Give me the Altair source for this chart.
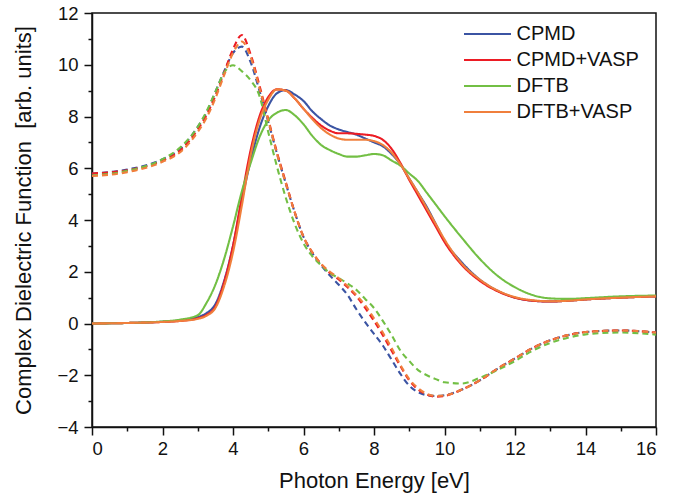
import altair as alt
import pandas as pd

energy = [0, 1, 2, 2.5, 3, 3.25, 3.5, 3.75, 4, 4.25, 4.5, 4.75, 5, 5.25, 5.5, 5.75,
          6, 6.25, 6.5, 6.75, 7, 7.25, 7.5, 7.75, 8, 8.25, 8.5, 8.75, 9, 9.25, 9.5,
          9.75, 10, 10.5, 11, 11.5, 12, 12.5, 13, 13.5, 14, 15, 16]

series_names = ["CPMD", "CPMD+VASP", "DFTB", "DFTB+VASP"]
series_colors = ["#3b54a3", "#ec1c24", "#72bf44", "#f07f3c"]

# imaginary part (solid)
cpmd_im = [0, 0.02, 0.07, 0.12, 0.25, 0.4, 0.75, 1.65, 3.0, 4.75, 6.3, 7.55, 8.4, 8.9, 9.02, 8.85,
           8.6, 8.2, 7.9, 7.65, 7.5, 7.4, 7.3, 7.15, 7.0, 6.85, 6.55, 6.15, 5.6, 5.05, 4.5,
           3.85, 3.2, 2.35, 1.7, 1.27, 1.0, 0.88, 0.85, 0.88, 0.93, 1.0, 1.05]
cpmdv_im = [0, 0.02, 0.06, 0.1, 0.2, 0.33, 0.65, 1.6, 3.0, 4.9, 6.7, 8.0, 8.75, 9.05, 9.0, 8.7,
            8.3, 7.95, 7.65, 7.45, 7.35, 7.35, 7.33, 7.3, 7.25, 7.1, 6.75, 6.2, 5.55, 4.95, 4.35,
            3.75, 3.15, 2.25, 1.65, 1.25, 1.0, 0.88, 0.85, 0.88, 0.93, 1.0, 1.05]
dftb_im = [0, 0.02, 0.08, 0.15, 0.32, 0.8, 1.5, 2.5, 3.75, 5.1, 6.2, 7.2, 7.85, 8.15, 8.25, 8.05,
           7.7, 7.25, 6.9, 6.7, 6.55, 6.45, 6.45, 6.5, 6.55, 6.5, 6.3, 6.1, 5.8, 5.5, 5.05,
           4.6, 4.15, 3.3, 2.5, 1.85, 1.4, 1.1, 0.97, 0.95, 0.98, 1.05, 1.08]
dftbv_im = [0, 0.02, 0.06, 0.1, 0.18, 0.3, 0.6, 1.45, 2.75, 4.55, 6.5, 7.85, 8.65, 9.05, 9.0, 8.7,
            8.3, 7.9, 7.55, 7.3, 7.15, 7.1, 7.1, 7.1, 7.05, 6.9, 6.6, 6.15, 5.6, 5.05, 4.45,
            3.85, 3.25, 2.3, 1.7, 1.28, 1.02, 0.9, 0.86, 0.88, 0.93, 1.0, 1.05]

# real part (dashed)
cpmd_re = [5.8, 5.95, 6.35, 6.75, 7.6, 8.15, 8.95, 9.75, 10.45, 10.7, 10.1, 9.0, 7.8, 6.55, 5.4, 4.3,
           3.35, 2.72, 2.25, 1.85, 1.5, 1.1, 0.55, 0.05, -0.4, -0.85, -1.4, -1.95, -2.4, -2.65, -2.77,
           -2.8, -2.77, -2.55, -2.2, -1.75, -1.35, -0.95, -0.65, -0.45, -0.33, -0.27, -0.35]
cpmdv_re = [5.8, 5.92, 6.3, 6.68, 7.5, 8.05, 8.8, 9.7, 10.6, 11.15, 10.4, 9.2, 7.9, 6.6, 5.45, 4.3,
            3.35, 2.75, 2.3, 1.95, 1.7, 1.4, 1.05, 0.6, 0.1, -0.45, -1.05, -1.65, -2.2, -2.55, -2.75,
            -2.83, -2.8, -2.55, -2.2, -1.75, -1.35, -0.95, -0.65, -0.45, -0.33, -0.27, -0.35]
dftb_re = [5.72, 5.9, 6.35, 6.8, 7.6, 8.2, 8.95, 9.7, 9.98, 9.75, 9.4, 8.8, 7.4, 6.05, 4.85, 3.85,
           3.1, 2.6, 2.25, 1.95, 1.75, 1.55, 1.3, 0.95, 0.6, 0.1, -0.45, -1.05, -1.45, -1.8, -2.0,
           -2.15, -2.27, -2.32, -2.1, -1.8, -1.45, -1.05, -0.75, -0.55, -0.42, -0.35, -0.43]
dftbv_re = [5.7, 5.85, 6.25, 6.62, 7.4, 7.95, 8.7, 9.6, 10.45, 10.9, 10.3, 9.1, 7.85, 6.55, 5.4, 4.3,
            3.35, 2.75, 2.3, 2.0, 1.75, 1.45, 1.1, 0.7, 0.2, -0.35, -0.95, -1.6, -2.15, -2.5, -2.72,
            -2.8, -2.78, -2.55, -2.2, -1.75, -1.35, -0.95, -0.65, -0.45, -0.33, -0.27, -0.35]

x_ticks_major = [0, 2, 4, 6, 8, 10, 12, 14, 16]
x_ticks_minor = [1, 3, 5, 7, 9, 11, 13, 15]
y_ticks_major = [-4, -2, 0, 2, 4, 6, 8, 10, 12]
y_ticks_minor = [-3, -1, 1, 3, 5, 7, 9, 11]

rows = []
im_lists = [cpmd_im, cpmdv_im, dftb_im, dftbv_im]
re_lists = [cpmd_re, cpmdv_re, dftb_re, dftbv_re]
for i, name in enumerate(series_names):
    for part, vals in (("Im", im_lists[i]), ("Re", re_lists[i])):
        for e, v in zip(energy, vals):
            rows.append({"energy": e, "value": v, "series": name, "part": part,
                         "key": name + "_" + part})
df = pd.DataFrame(rows)

FONT = "Liberation Sans"

xscale = alt.Scale(domain=[0, 16], nice=False, zero=False)
yscale = alt.Scale(domain=[-4, 12], nice=False, zero=False)

lines = alt.Chart(df).mark_line(strokeWidth=2.1, interpolate="monotone").encode(
    x=alt.X("energy:Q", scale=xscale,
            axis=alt.Axis(values=x_ticks_major, title="Photon Energy [eV]", orient="bottom",
                          tickSize=8, labelPadding=4, titlePadding=13, grid=False)),
    y=alt.Y("value:Q", scale=yscale,
            axis=alt.Axis(values=y_ticks_major,
                          title="Complex Dielectric Function\u00a0\u00a0[arb. units]",
                          orient="left", tickSize=8, labelPadding=6, titlePadding=21, grid=False)),
    color=alt.Color("series:N", scale=alt.Scale(domain=series_names, range=series_colors),
                    legend=alt.Legend(title=None, orient="none", legendX=384.5, legendY=10,
                                      symbolType="M-2.35,0H2.35", symbolSize=400,
                                      symbolStrokeWidth=2, labelOffset=18, rowPadding=5,
                                      labelFontSize=20, labelFont=FONT, padding=0,
                                      labelColor="#111")),
    strokeDash=alt.StrokeDash("part:N", scale=alt.Scale(domain=["Im", "Re"], range=[[1, 0], [6, 4]]),
                              legend=None),
    detail="key:N",
)

minor = alt.Chart(df).mark_line(opacity=0).encode(
    x=alt.X("energy:Q", scale=xscale,
            axis=alt.Axis(values=x_ticks_minor, labels=False, title=None, domain=False,
                          orient="bottom", tickSize=4, grid=False)),
    y=alt.Y("value:Q", scale=yscale,
            axis=alt.Axis(values=y_ticks_minor, labels=False, title=None, domain=False,
                          orient="left", tickSize=4, grid=False)),
    detail="key:N",
)

chart = alt.layer(lines, minor).resolve_axis(x="independent", y="independent").properties(
    width=564, height=414,
    autosize=alt.AutoSizeParams(type="none"),
    padding={"left": 92, "top": 13, "right": 34, "bottom": 71},
    background="white",
).configure_view(
    stroke="#111", strokeWidth=1.5
).configure_axis(
    labelFont=FONT, titleFont=FONT, labelFontSize=18.5, titleFontSize=22,
    titleFontWeight="normal", labelColor="#111", titleColor="#111",
    tickColor="#111", domainColor="#111", tickWidth=1.5, domainWidth=1.5,
)

chart.save("out.html", embed_options={"renderer": "svg", "actions": False})
